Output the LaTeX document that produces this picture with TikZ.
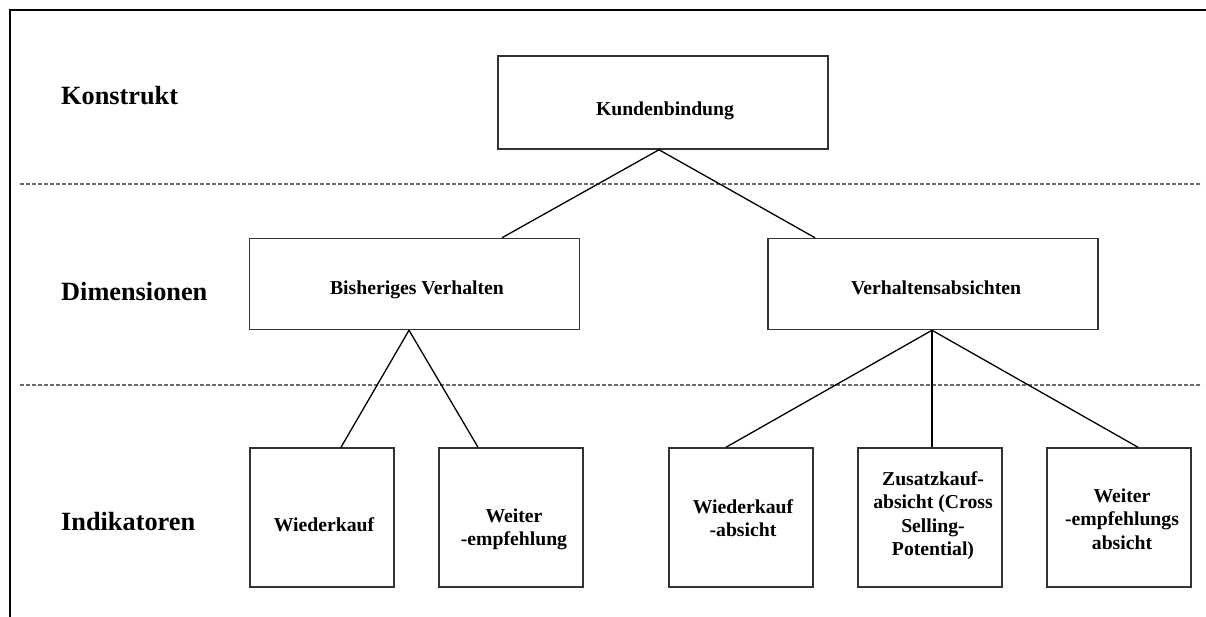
\documentclass[tikz,border=0pt]{standalone}
\usepackage{fontspec}
\setmainfont{Liberation Serif}
\definecolor{boxgray}{HTML}{333333}
\definecolor{sepgray}{HTML}{6A6A6A}
\begin{document}
\begin{tikzpicture}[x=1pt,y=-1pt,
  box/.style={draw=boxgray,line width=1.5pt,inner sep=0pt},
  topbox/.style={box,minimum width=330pt,minimum height=91pt},
  indbox/.style={box,minimum width=144pt,minimum height=139pt},
  btext/.style={font=\bfseries\fontsize{19.7}{23.5}\selectfont,align=center,inner sep=0pt},
  rowlabel/.style={font=\bfseries\fontsize{26.3}{30}\selectfont,anchor=base west,inner sep=0pt},
  conn/.style={line width=1.3pt,black},
  sepline/.style={draw=sepgray,line width=1.2pt,dash pattern=on 4pt off 2pt},
  framestyle/.style={line width=2.7pt,black}]
\useasboundingbox (0,0) rectangle (1206,616);

% frame (only left and top visible)
\draw[framestyle] (10,617) -- (10,10) -- (1207,10);

% separators
\draw[sepline] (20,184) -- (1202,184);
\draw[sepline] (20,385) -- (1202,385);

% row labels
\node[rowlabel] (lk) at (61,104.3) {Konstrukt};
\node[rowlabel] (ld) at (61,300) {Dimensionen};
\node[rowlabel] (li) at (61,530) {Indikatoren};

% construct
\node[box,minimum width=330pt,minimum height=93pt] (kb) at (663,102.5) {};
\node[btext,anchor=base] (kbt) at (665,115) {Kundenbindung};

% dimensions
\node[topbox] (bv) at (414.5,284) {};
\node[btext,anchor=base] (bvt) at (417,294) {Bisheriges Verhalten};
\node[topbox] (vb) at (933,284) {};
\node[btext,anchor=base] (vbt) at (936,294) {Verhaltensabsichten};

% indicators
\node[indbox] (w1) at (322,517.5) {};
\node[btext,anchor=base] (w1t) at (324,531.7) {Wiederkauf};
\node[indbox] (w2) at (511,517.5) {};
\node[btext] (w2t) at (514,529.3) {Weiter\\-empfehlung};
\node[indbox] (a1) at (741,517.5) {};
\node[btext] (a1t) at (743,518) {Wiederkauf\\-absicht};
\node[indbox] (a2) at (930,517.5) {};
\node[btext] (a2t) at (933,515.8) {Zusatzkauf-\\absicht (Cross\\Selling-\\Potential)};
\node[indbox] (a3) at (1119,517.5) {};
\node[btext] (a3t) at (1122,519) {Weiter\\-empfehlungs\\absicht};

% connectors
\draw[conn] ([xshift=-4pt]kb.south) -- ([xshift=87.5pt]bv.north);
\draw[conn] ([xshift=-4pt]kb.south) -- ([xshift=-118pt]vb.north);
\draw[conn] ([xshift=-5.5pt]bv.south) -- ([xshift=19pt]w1.north);
\draw[conn] ([xshift=-5.5pt]bv.south) -- ([xshift=-33pt]w2.north);
\draw[conn] ([xshift=-1pt]vb.south) -- ([xshift=-15pt]a1.north);
\draw[conn] ([xshift=-1pt]vb.south) -- ([xshift=2pt]a2.north);
\draw[conn] ([xshift=-1pt]vb.south) -- ([xshift=19pt]a3.north);
\end{tikzpicture}
\end{document}
